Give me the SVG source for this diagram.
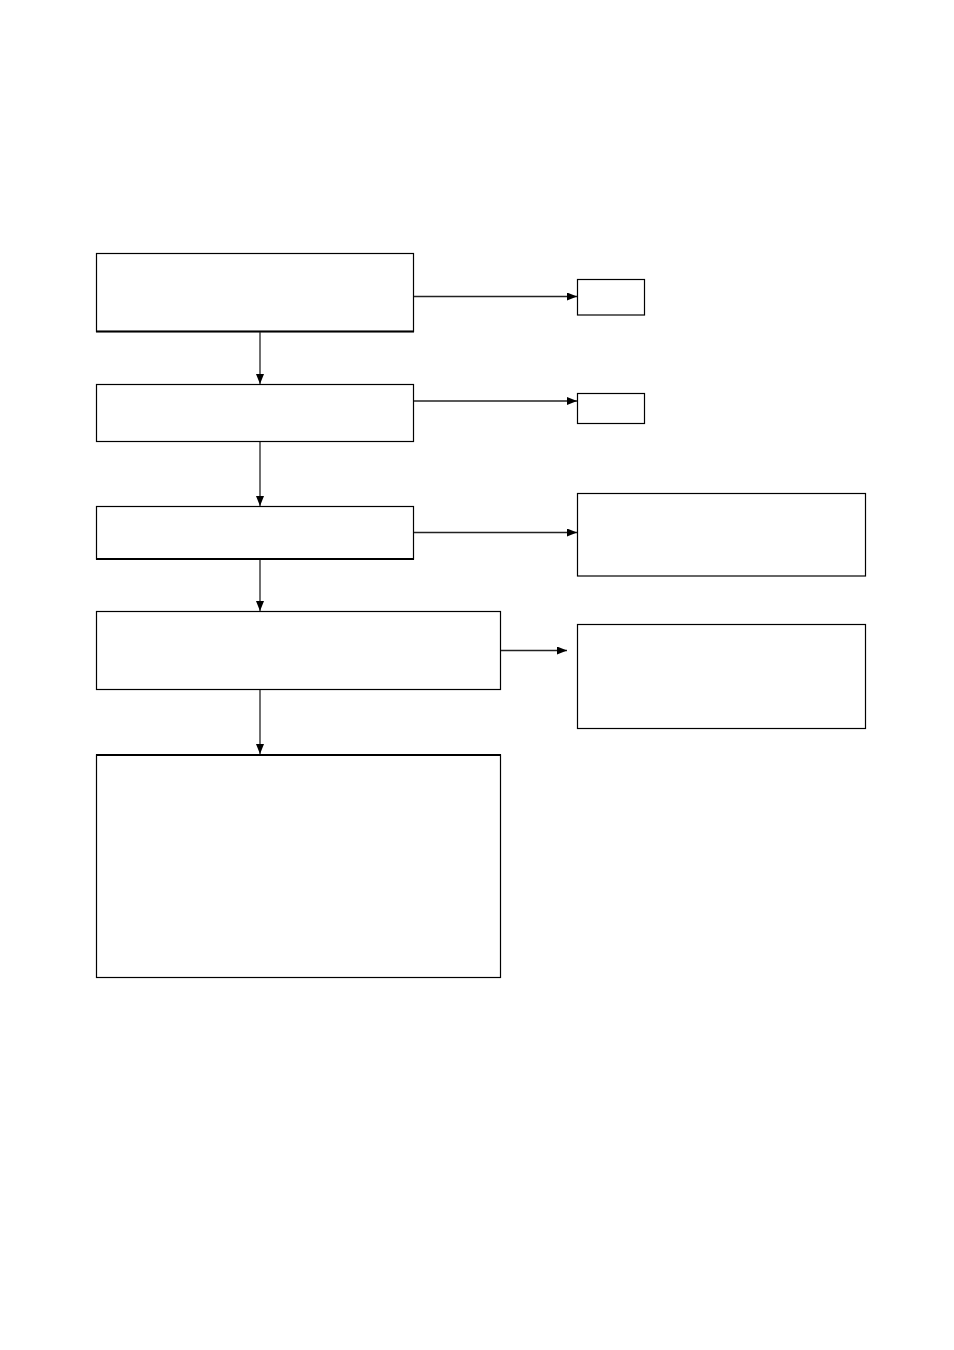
<svg xmlns="http://www.w3.org/2000/svg" width="954" height="1350" viewBox="0 0 954 1350">
<style>
.box{fill:#fff;stroke:#000;stroke-width:1.2}
.thick{stroke:#000;stroke-width:2.2}
.conn{fill:none;stroke:#222;stroke-width:1.3}
</style>
<defs>
<marker id="ah" markerWidth="10" markerHeight="8" refX="10" refY="4" orient="auto" markerUnits="userSpaceOnUse">
<path d="M0,0 L10,4 L0,8 Z" fill="#000"/>
</marker>
</defs>
<rect width="954" height="1350" fill="#fff"/>
<g id="n1"><rect class="box" x="96.5" y="253.5" width="317" height="78"/><line class="thick" x1="96" y1="331.5" x2="414" y2="331.5"/></g>
<g id="n2"><rect class="box" x="96.5" y="384.5" width="317" height="57"/></g>
<g id="n3"><rect class="box" x="96.5" y="506.5" width="317" height="52.5"/><line class="thick" x1="96" y1="559" x2="414" y2="559"/></g>
<g id="n4"><rect class="box" x="96.5" y="611.5" width="404" height="78"/></g>
<g id="n5"><rect class="box" x="96.5" y="755" width="404" height="222.5"/><line class="thick" x1="96" y1="755" x2="501" y2="755"/></g>
<g id="r1"><rect class="box" x="577.5" y="279.5" width="67" height="35.5"/></g>
<g id="r2"><rect class="box" x="577.5" y="393.5" width="67" height="30"/></g>
<g id="r3"><rect class="box" x="577.5" y="493.5" width="288" height="82.5"/></g>
<g id="r4"><rect class="box" x="577.5" y="624.5" width="288" height="104"/></g>
<g id="connectors">
<line class="conn" x1="260" y1="332" x2="260" y2="384" marker-end="url(#ah)"/>
<line class="conn" x1="260" y1="442" x2="260" y2="506" marker-end="url(#ah)"/>
<line class="conn" x1="260" y1="560" x2="260" y2="611" marker-end="url(#ah)"/>
<line class="conn" x1="260" y1="690" x2="260" y2="754" marker-end="url(#ah)"/>
<line class="conn" x1="414" y1="296.5" x2="577" y2="296.5" marker-end="url(#ah)"/>
<line class="conn" x1="414" y1="401" x2="577" y2="401" marker-end="url(#ah)"/>
<line class="conn" x1="414" y1="532.5" x2="577" y2="532.5" marker-end="url(#ah)"/>
<line class="conn" x1="501" y1="650.5" x2="567" y2="650.5" marker-end="url(#ah)"/>
</g>
</svg>
